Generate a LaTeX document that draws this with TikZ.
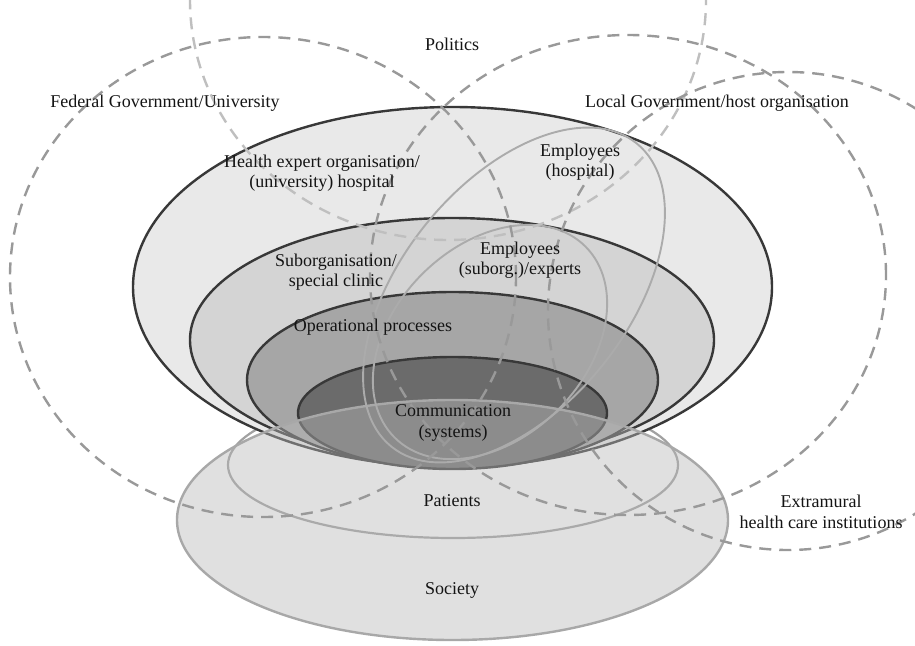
\documentclass[tikz,border=0pt]{standalone}
\usepackage{fontspec}
\setmainfont{Liberation Serif}
\definecolor{ringhosp}{gray}{0.915}
\definecolor{ringsub}{gray}{0.83}
\definecolor{ringops}{gray}{0.65}
\definecolor{ringcom}{gray}{0.42}
\definecolor{ringedge}{gray}{0.22}
\definecolor{socfill}{gray}{0.72}
\definecolor{socedge}{gray}{0.66}
\definecolor{staffedge}{gray}{0.67}
\definecolor{spheredge}{gray}{0.60}
\definecolor{poledge}{gray}{0.75}
\begin{document}
\begin{tikzpicture}[x=1pt,y=-1pt,
  lbl/.style={font=\fontsize{18}{20.5}\selectfont, text=black!92, align=center, inner sep=0pt},
  ring/.style={draw=ringedge, line width=2.4pt},
  staff/.style={draw=staffedge, line width=1.9pt},
  sphere/.style={draw=spheredge, line width=2.4pt, dash pattern=on 12pt off 8pt},
  politics/.style={sphere, draw=poledge},
]
\useasboundingbox (0,0) rectangle (915,645);
\clip (0,0) rectangle (915,645);
\fill[white] (0,0) rectangle (915,645);

% patients: its upper arc disappears behind the organisation layers
\draw[draw=black!37, line width=2.2pt] (453,465) ellipse [x radius=225pt, y radius=73pt];

% nested organisation layers
\filldraw[ring, fill=ringhosp] (452.5,287) ellipse [x radius=319.5pt, y radius=180pt];
\filldraw[ring, fill=ringsub]  (452,340)   ellipse [x radius=262pt, y radius=122pt];
\filldraw[ring, fill=ringops]  (452.5,380) ellipse [x radius=205.5pt, y radius=88pt];
\filldraw[ring, fill=ringcom]  (452.5,413) ellipse [x radius=154.5pt, y radius=56pt];

% society, translucent over the base of the layers
\fill[socfill, fill opacity=0.43] (452.5,520) ellipse [x radius=275.5pt, y radius=120pt];
\draw[draw=socedge, line width=2.4pt] (452.5,520) ellipse [x radius=275.5pt, y radius=120pt];

% employee groups
\draw[staff, rotate around={51:(514,295)}] (514,295) ellipse [x radius=195pt, y radius=113pt];
\draw[staff, rotate around={45:(490,342)}] (490,342) ellipse [x radius=135pt, y radius=96pt];

% surrounding spheres of influence
\draw[sphere]   (263,277) ellipse [x radius=253pt, y radius=240pt];
\draw[politics] (448,0)   ellipse [x radius=258pt, y radius=240pt];
\draw[sphere]   (628,275) ellipse [x radius=258pt, y radius=240pt];
\draw[sphere]   (788,311) ellipse [x radius=240pt, y radius=239pt];

% labels
\node[lbl] (pol)  at (452,44)  {Politics};
\node[lbl] (fed)  at (165,103) {Federal Government/University};
\node[lbl] (loc)  at (717,103) {Local Government/host organisation};
\node[lbl] (hosp) at (322,173) {Health expert organisation/\\(university) hospital};
\node[lbl] (emph) at (580,162) {Employees\\(hospital)};
\node[lbl] (sub)  at (336,272) {Suborganisation/\\special clinic};
\node[lbl] (emps) at (520,260) {Employees\\(suborg.)/experts};
\node[lbl] (ops)  at (373,327) {Operational processes};
\node[lbl] (com)  at (453,423) {Communication\\(systems)};
\node[lbl] (pat)  at (452,501) {Patients};
\node[lbl] (soc)  at (452,590) {Society};
\node[lbl] (ext)  at (821,512) {Extramural\\health care institutions};
\end{tikzpicture}
\end{document}
